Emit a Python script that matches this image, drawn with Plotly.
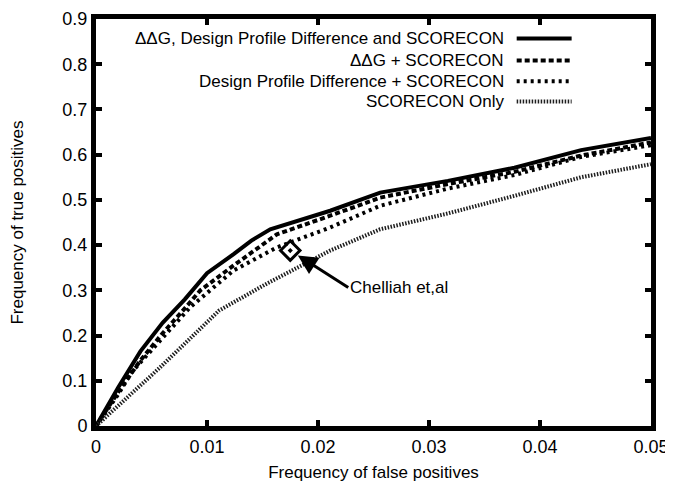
import plotly.graph_objects as go

# ---- data ----
all_x = [0, 0.002, 0.004, 0.006, 0.008, 0.010, 0.0124, 0.014, 0.0157, 0.018, 0.0211, 0.0256, 0.0317, 0.0377, 0.0437, 0.050]
all_y = [0, 0.085, 0.165, 0.228, 0.28, 0.338, 0.38, 0.41, 0.435, 0.452, 0.476, 0.516, 0.542, 0.571, 0.61, 0.637]

ddg_x = [0, 0.002, 0.004, 0.006, 0.008, 0.0094, 0.0124, 0.0163, 0.0211, 0.0256, 0.0317, 0.0377, 0.0437, 0.050]
ddg_y = [0, 0.075, 0.145, 0.205, 0.26, 0.30, 0.355, 0.424, 0.465, 0.505, 0.535, 0.562, 0.598, 0.627]

dpd_x = [0, 0.002, 0.00325, 0.006, 0.0085, 0.0124, 0.0163, 0.0211, 0.0256, 0.0317, 0.0377, 0.0437, 0.050]
dpd_y = [0, 0.07, 0.12, 0.195, 0.263, 0.344, 0.395, 0.439, 0.487, 0.525, 0.555, 0.595, 0.621]

sc_x = [0, 0.00566, 0.00939, 0.0111, 0.0154, 0.0211, 0.0256, 0.0317, 0.0377, 0.0437, 0.050]
sc_y = [0, 0.127, 0.215, 0.2555, 0.315, 0.388, 0.435, 0.47, 0.509, 0.55, 0.579]

series_names = ["ΔΔG, Design Profile Difference and SCORECON",
                "ΔΔG + SCORECON",
                "Design Profile Difference + SCORECON",
                "SCORECON Only"]

chelliah_x = [0.0175]
chelliah_y = [0.388]
chelliah_label = "Chelliah et,al"

x_ticks = [0, 0.01, 0.02, 0.03, 0.04, 0.05]
y_ticks = [0, 0.1, 0.2, 0.3, 0.4, 0.5, 0.6, 0.7, 0.8, 0.9]

# ---- styles ----
FONT = "Liberation Sans, Arial, Helvetica, sans-serif"
styles = [
    dict(color="black", width=4, dash="solid"),
    dict(color="black", width=4, dash="5px,3px"),
    dict(color="black", width=4, dash="3px,4px"),
    dict(color="#1e1e1e", width=4, dash="1.5px,1.5px"),
]

fig = go.Figure()
for (xs, ys), name, st in zip([(all_x, all_y), (ddg_x, ddg_y), (dpd_x, dpd_y), (sc_x, sc_y)],
                              series_names, styles):
    fig.add_trace(go.Scatter(x=xs, y=ys, mode="lines", name=name, line=st, showlegend=False))

fig.add_trace(go.Scatter(x=chelliah_x, y=chelliah_y, mode="markers", showlegend=False,
                         marker=dict(symbol="diamond-open-dot", size=15, color="black",
                                     line=dict(width=3, color="black"))))

fig.add_annotation(x=chelliah_x[0], y=chelliah_y[0], text=chelliah_label,
                   showarrow=True, ax=58, ay=37, xanchor="left",
                   arrowhead=2, arrowsize=1.3, arrowwidth=3, arrowcolor="black",
                   standoff=9, font=dict(family=FONT, size=17, color="black"))

# ---- manual legend (text right-aligned, line sample to the right) ----
leg_rows = [0.952, 0.898, 0.847, 0.797]
for name, st, yy in zip(series_names, styles, leg_rows):
    fig.add_annotation(xref="paper", yref="paper", x=0.738, y=yy, text=name,
                       showarrow=False, xanchor="right", yanchor="middle",
                       font=dict(family=FONT, size=17, color="black"))
    fig.add_shape(type="line", xref="paper", yref="paper", x0=0.758, x1=0.857, y0=yy, y1=yy,
                  line=st)

axis_common = dict(showline=True, linewidth=5, linecolor="black", mirror="ticks",
                   ticks="inside", ticklen=6, tickwidth=4, tickcolor="black",
                   showgrid=False, zeroline=False, automargin=False,
                   ticklabeloverflow="allow",
                   tickfont=dict(family=FONT, size=18, color="black"),
                   title_font=dict(family=FONT, size=17, color="black"))

fig.update_xaxes(range=[0, 0.05], tickvals=x_ticks, ticktext=[f"{v:g}" for v in x_ticks],
                 title_text="Frequency of false positives", title_standoff=12, **axis_common)
fig.update_yaxes(range=[0, 0.9], tickvals=y_ticks, ticktext=[f"{v:g}" for v in y_ticks],
                 title_text="Frequency of true positives", title_standoff=49, **axis_common)

fig.update_layout(width=665, height=475, margin=dict(l=88, r=22, t=11, b=57),
                  paper_bgcolor="white", plot_bgcolor="white",
                  font=dict(family=FONT, size=17, color="black"))

fig.write_html("out.html")
